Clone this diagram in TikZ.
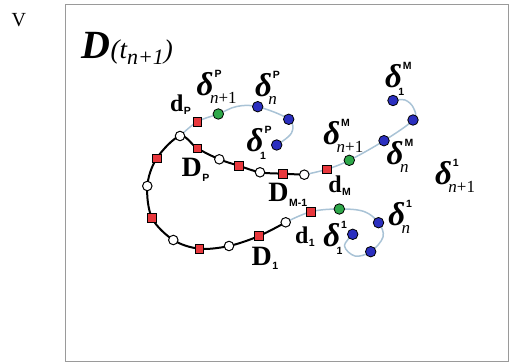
\documentclass[tikz,border=0pt]{standalone}
\usepackage{fontspec}
\setmainfont{Liberation Serif}
\newfontfamily\lsans{Liberation Sans}
\usetikzlibrary{backgrounds}
\definecolor{myred}{HTML}{E8383D}
\definecolor{myblue}{HTML}{2B2FBF}
\definecolor{mygreen}{HTML}{2EA84A}
\definecolor{threadc}{HTML}{A9C3D6}
\definecolor{framec}{HTML}{9A9A9A}
\newcommand\supf{\lsans\bfseries\fontsize{10.5}{10.5}\selectfont}
\newcommand\dfont{\fontsize{33}{33}\selectfont\bfseries\itshape}
\newcommand\nfont{\fontsize{17}{17}\selectfont}
\newcommand\npo{{\nfont\itshape n}{\nfont +1}}
\newcommand\nn{{\nfont\itshape n}}
\newcommand\one{{\supf 1}}
\newcommand\delt[2]{{\dfont δ}\rlap{\kern1pt\raisebox{18pt}{\supf #1}}\kern-3.5pt\raisebox{-8pt}{#2}}
\newcommand\Dl[1]{{\fontsize{28}{28}\selectfont\bfseries D}\kern0.5pt\raisebox{-4.5pt}{\supf #1}}
\newcommand\dlo[1]{{\fontsize{24}{24}\selectfont\bfseries d}\kern0.5pt\raisebox{-3pt}{\supf #1}}
\begin{document}
\begin{tikzpicture}[x=1pt,y=-1pt,
  open/.style={circle,draw=black,fill=white,line width=1pt,minimum size=9.5pt,inner sep=0pt},
  sq/.style={rectangle,draw=black,fill=myred,line width=0.8pt,minimum size=8.5pt,inner sep=0pt},
  bdot/.style={circle,draw=black,fill=myblue,line width=0.8pt,minimum size=10.5pt,inner sep=0pt},
  gdot/.style={circle,draw=black,fill=mygreen,line width=0.8pt,minimum size=10.5pt,inner sep=0pt},
  chain/.style={line width=2pt,black},
  thread/.style={line width=1.5pt,threadc},
  lab/.style={anchor=base west,inner sep=0pt,outer sep=0pt}]
\useasboundingbox (0,0) rectangle (510,363);
% black chain nodes
\node[open] (c1) at (304.3,174.7) {};
\node[sq]   (s1) at (282.7,173.7) {};
\node[open] (c2) at (260,172.3) {};
\node[sq]   (s2) at (238.7,165.7) {};
\node[open] (c3) at (219.3,159.3) {};
\node[sq]   (s3) at (197.3,148.3) {};
\node[open] (c4) at (180,136) {};
\node[sq]   (s4) at (156.7,158.3) {};
\node[open] (c5) at (147.3,186) {};
\node[sq]   (s5) at (152,218) {};
\node[open] (c6) at (173.3,240) {};
\node[sq]   (s6) at (199.3,248.7) {};
\node[open] (c7) at (229,246) {};
\node[sq]   (s7) at (259,236) {};
\node[open] (c8) at (285.7,222.3) {};
% P thread
\node[sq]   (dP)  at (197.3,121.7) {};
\node[gdot] (gP)  at (218.3,114) {};
\node[bdot] (bPn) at (257.7,106.7) {};
\node[bdot] (bP2) at (288.7,119.3) {};
\node[bdot] (bP1) at (276.7,145) {};
\coordinate (tP1) at (236.7,106.5);
\coordinate (tP2) at (291.5,133);
% M thread
\node[sq]   (dM)  at (326.7,169.3) {};
\node[gdot] (gM)  at (349.3,160.3) {};
\node[bdot] (bMn) at (384,140.7) {};
\node[bdot] (bM2) at (413,120) {};
\node[bdot] (bM1) at (393,100.5) {};
\coordinate (tM1) at (413.5,108);
\coordinate (tM2) at (405,100);
% 1 thread
\node[sq]   (d1)  at (311,211.7) {};
\node[gdot] (g1)  at (339.3,209) {};
\node[bdot] (b1n) at (378.5,222.7) {};
\node[bdot] (b1b) at (370.7,251.7) {};
\node[bdot] (b1a) at (352.7,234.3) {};
\coordinate (t11) at (364,211.5);
\coordinate (t12) at (383,237);
\coordinate (t13) at (355,256);
\coordinate (t14) at (344.5,246);
\begin{scope}[on background layer]
\draw[framec,line width=1pt] (65,5) rectangle (508,361);
\draw[chain] plot[smooth,tension=0.55] coordinates {(c1.center) (s1.center) (c2.center) (s2.center) (c3.center) (s3.center) (c4.center) (s4.center) (c5.center) (s5.center) (c6.center) (s6.center) (c7.center) (s7.center) (c8.center)};
\draw[thread] plot[smooth,tension=0.6] coordinates {(c4.center) (dP.center) (gP.center) (tP1) (bPn.center) (bP2.center) (tP2) (bP1.center)};
\draw[thread] plot[smooth,tension=0.6] coordinates {(c1.center) (dM.center) (gM.center) (bMn.center) (bM2.center) (tM1) (tM2) (bM1.center)};
\draw[thread] plot[smooth,tension=0.6] coordinates {(c8.center) (d1.center) (g1.center) (t11) (b1n.center) (t12) (b1b.center) (t13) (t14) (b1a.center)};
\end{scope}
% labels
\node[lab] (lV) at (11.5,26.5) {\fontsize{20}{20}\selectfont V};
\node[lab] (title) at (81.7,58.3) {{\fontsize{40}{40}\selectfont\bfseries\itshape D}{\fontsize{27}{27}\selectfont\itshape (t}\raisebox{-6pt}{\fontsize{22}{22}\selectfont\itshape n+1}{\fontsize{27}{27}\selectfont\itshape )}};
\node[lab] (lPn1) at (196.7,95.5) {\delt{P}{\npo}};
\node[lab] (lPn)  at (255,96.5) {\delt{P}{\nn}};
\node[lab] (lP1)  at (246.7,151.7) {\delt{P}{\one}};
\node[lab] (ldP)  at (170,111.7) {\dlo{P}};
\node[lab] (lDP)  at (181.7,176.7) {\Dl{P}};
\node[lab] (lDM)  at (268.3,201.7) {\Dl{M-1}};
\node[lab] (ldM)  at (328.3,192.7) {\dlo{M}};
\node[lab] (lMn1) at (323.3,145) {\delt{M}{\npo}};
\node[lab] (lM1)  at (385,87.3) {\delt{M}{\one}};
\node[lab] (lMn)  at (386.7,165) {\delt{M}{\nn}};
\node[lab] (l1n1) at (435,185) {\delt{1}{\npo}};
\node[lab] (l1n)  at (388.3,225) {\delt{1}{\nn}};
\node[lab] (l11)  at (323.3,246.7) {\delt{1}{\one}};
\node[lab] (ld1)  at (295,243.3) {\dlo{1}};
\node[lab] (lD1)  at (251.7,265) {\Dl{1}};
\end{tikzpicture}
\end{document}
